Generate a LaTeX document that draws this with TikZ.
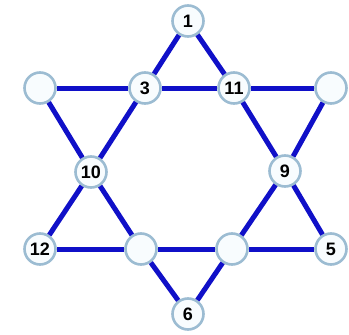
\documentclass[tikz,border=0pt]{standalone}
\usepackage{fontspec}
\setmainfont{Liberation Sans}
\usepackage{tikz}
\usetikzlibrary{positioning}
\definecolor{starblue}{HTML}{1010C8}
\definecolor{rimblue}{HTML}{9CBCD2}
\definecolor{softcyan}{HTML}{F8FCFE}

\begin{document}
\begin{tikzpicture}[x=1pt,y=-1pt,
  disc/.style={circle,draw=rimblue,fill=softcyan,line width=2.6pt,
    minimum size=31pt,inner sep=0pt,
    font=\fontsize{18}{18}\selectfont\bfseries,text=black},
  bond/.style={line width=5pt,starblue}
]
  \useasboundingbox (0,0) rectangle (349,335);
  \node[disc] (one) at (188,21) {1};
  \node[disc] (three) at (145,88) {3};
  \node[disc] (eleven) at (234,88) {11};
  \node[disc] (tl) at (40,88) {};
  \node[disc] (tr) at (331,88) {};
  \node[disc] (ten) at (91,172) {10};
  \node[disc] (nine) at (285,171) {9};
  \node[disc] (twelve) at (40,249) {12};
  \node[disc] (bl) at (141,249) {};
  \node[disc] (br) at (232,249) {};
  \node[disc] (five) at (331,249) {5};
  \node[disc] (six) at (188,314) {6};

  \draw[bond] (one) -- (three);
  \draw[bond] (three) -- (ten);
  \draw[bond] (ten) -- (twelve);
  \draw[bond] (twelve) -- (bl);
  \draw[bond] (bl) -- (br);
  \draw[bond] (br) -- (five);
  \draw[bond] (five) -- (nine);
  \draw[bond] (nine) -- (eleven);
  \draw[bond] (eleven) -- (one);

  \draw[bond] (tl) -- (three);
  \draw[bond] (three) -- (eleven);
  \draw[bond] (eleven) -- (tr);
  \draw[bond] (tr) -- (nine);
  \draw[bond] (nine) -- (br);
  \draw[bond] (br) -- (six);
  \draw[bond] (six) -- (bl);
  \draw[bond] (bl) -- (ten);
  \draw[bond] (ten) -- (tl);
\end{tikzpicture}
\end{document}
